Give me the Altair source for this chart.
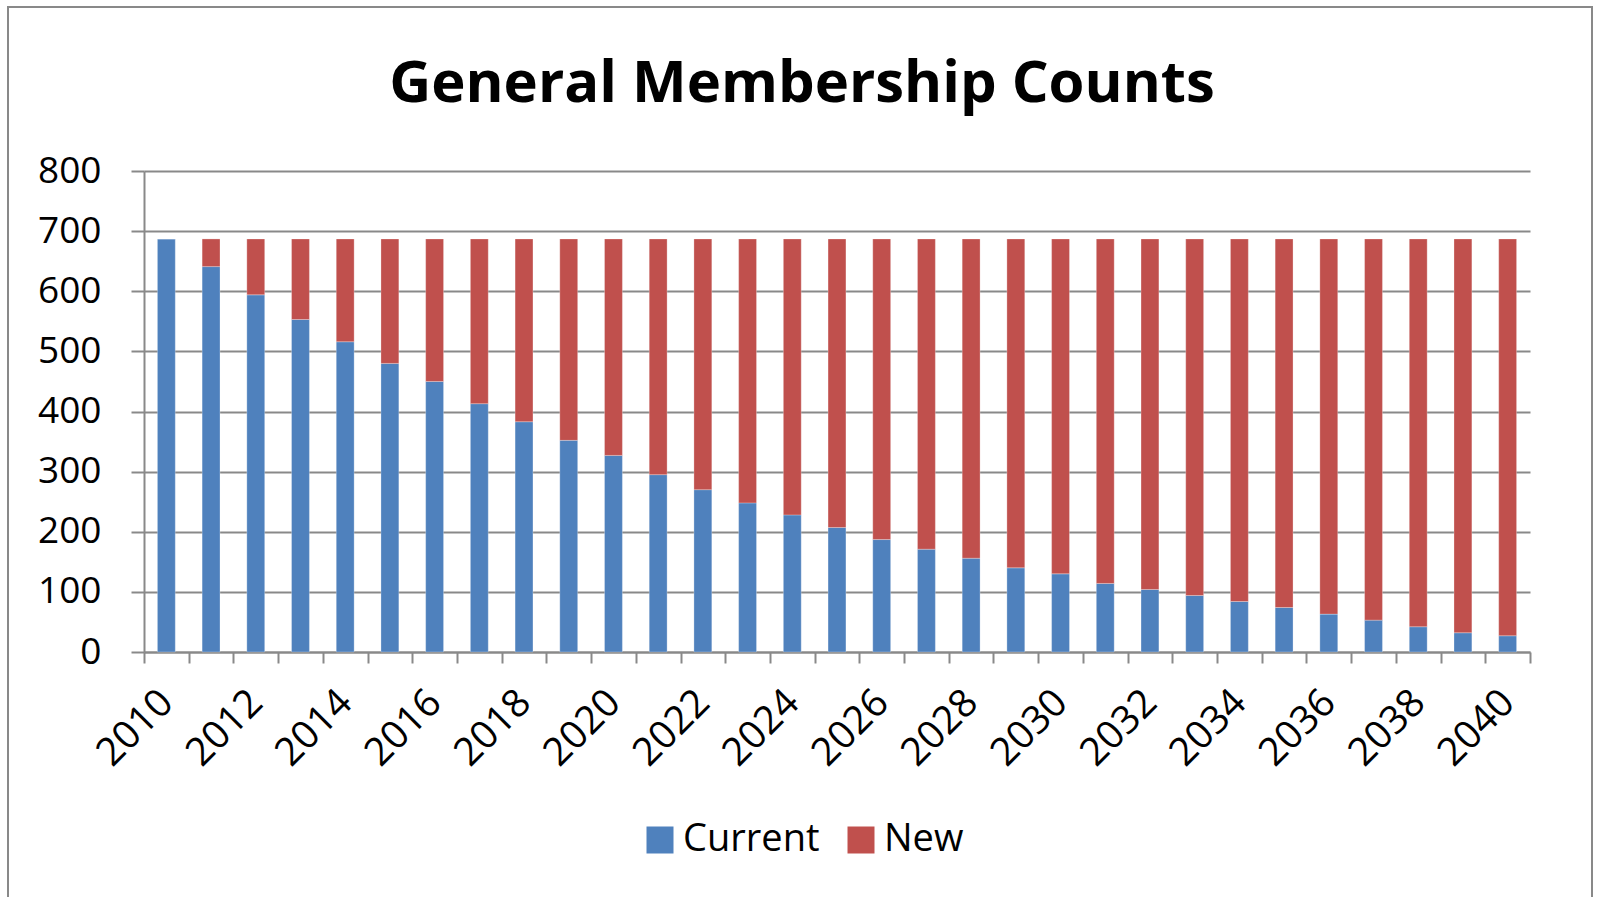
import altair as alt
import pandas as pd

years = ["2010", "2011", "2012", "2013", "2014", "2015", "2016", "2017", "2018", "2019",
         "2020", "2021", "2022", "2023", "2024", "2025", "2026", "2027", "2028", "2029",
         "2030", "2031", "2032", "2033", "2034", "2035", "2036", "2037", "2038", "2039", "2040"]
current = [687, 641, 594, 553, 516, 480, 450, 413, 383, 352,
           327, 295, 270, 248, 228, 207, 187, 171, 156, 140,
           130, 114, 104, 94, 84, 74, 63, 53, 42, 32, 27]
new = [0, 46, 93, 134, 171, 207, 237, 274, 304, 335,
       360, 392, 417, 439, 459, 480, 500, 516, 531, 547,
       557, 573, 583, 593, 603, 613, 624, 634, 645, 655, 660]
series_names = ["Current", "New"]
series_colors = ["#4F81BD", "#C0504D"]
y_ticks = [0, 100, 200, 300, 400, 500, 600, 700, 800]
title_text = "General Membership  Counts"

rows = []
for yr, c, n in zip(years, current, new):
    rows.append({"Year": yr, "Series": "Current", "Count": c, "ord": 0})
    rows.append({"Year": yr, "Series": "New", "Count": n, "ord": 1})
df = pd.DataFrame(rows)

GRID = "#898989"
FONT = "Open Sans"

bars = alt.Chart(df).mark_bar(
    width=alt.RelativeBandSize(0.4),
    stroke="#ffffff", strokeOpacity=0.35, strokeWidth=0.8
).encode(
    x=alt.X("Year:N", sort=years,
            scale=alt.Scale(paddingInner=0, paddingOuter=0),
            axis=alt.Axis(title=None, labelAngle=-45, labelAlign="right", labelBaseline="middle",
                          labelExpr="toNumber(datum.value) % 2 == 0 ? datum.label : ''",
                          labelOverlap=False, labelFont=FONT, labelFontSize=39, labelColor="black",
                          tickBand="extent", tickSize=11, tickColor=GRID, tickWidth=2,
                          domainColor=GRID, domainWidth=2, labelPadding=33, grid=False)),
    y=alt.Y("Count:Q", stack="zero",
            scale=alt.Scale(domain=[0, 800], nice=False),
            axis=alt.Axis(title=None, values=y_ticks, labelFont=FONT, labelFontSize=37,
                          labelColor="black", tickSize=13, tickColor=GRID, tickWidth=2,
                          domainColor=GRID, domainWidth=2, labelPadding=30,
                          grid=True, gridColor=GRID, gridWidth=2)),
    color=alt.Color("Series:N",
                    scale=alt.Scale(domain=series_names, range=series_colors),
                    legend=alt.Legend(title=None, orient="none", direction="horizontal",
                                      legendX=497, legendY=650, padding=0,
                                      symbolType="square", symbolSize=729, symbolStrokeWidth=0,
                                      labelFont=FONT, labelFontSize=38, labelColor="black",
                                      labelOffset=4, columnPadding=22)),
    order=alt.Order("ord:Q"),
)

frame_df = pd.DataFrame({"k": [0]})
border = alt.Chart(frame_df).mark_rect(filled=False, stroke=GRID, strokeWidth=2).encode(
    x=alt.value(-136), x2=alt.value(1448), y=alt.value(-164), y2=alt.value(740)
)
title = alt.Chart(frame_df).mark_text(
    text=title_text, font=FONT, fontSize=58, fontWeight="bold", color="black",
    align="center", baseline="alphabetic"
).encode(x=alt.value(658), y=alt.value(-69))

chart = alt.layer(border, bars, title).properties(
    width=1386, height=481,
    padding={"left": 144, "top": 171, "right": 69, "bottom": 245},
    autosize=alt.AutoSizeParams(type="none"),
    background="white",
).configure_view(stroke=None)

chart.save("out.html", embed_options={"renderer": "svg", "actions": False})
